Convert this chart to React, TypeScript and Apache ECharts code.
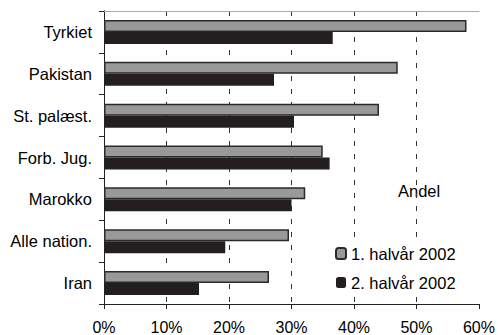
import React, { useEffect, useRef } from "react";
import * as echarts from "echarts";

const categories = ["Tyrkiet", "Pakistan", "St. palæst.", "Forb. Jug.", "Marokko", "Alle nation.", "Iran"];
const firstHalf2002 = [58.0, 47.0, 44.0, 35.0, 32.2, 29.6, 26.4];
const secondHalf2002 = [36.6, 27.2, 30.4, 36.1, 30.0, 19.4, 15.2];
const seriesNames = ["1. halvår 2002", "2. halvår 2002"];
const xTickMax = 60;
const xTickStep = 10;

const FONT = "'Liberation Sans', Arial, sans-serif";

export default function App() {
  const ref = useRef<HTMLDivElement>(null);
  useEffect(() => {
    if (!ref.current) return;
    const chart = echarts.init(ref.current, undefined, { renderer: "svg" });
    chart.setOption({
      animation: false,
      backgroundColor: "#fff",
      textStyle: { fontFamily: FONT },
      grid: { left: 104, right: 17, top: 11, bottom: 27, containLabel: false },
      xAxis: [
        {
          type: "value",
          min: 0,
          max: xTickMax,
          interval: xTickStep,
          axisLine: { show: true, lineStyle: { color: "#222", width: 1 } },
          axisTick: { show: true, length: 5, lineStyle: { color: "#222" } },
          axisLabel: { formatter: "{value}%", fontSize: 16, color: "#000", margin: 15, fontFamily: FONT },
          splitLine: {
            show: true,
            showMinLine: false,
            showMaxLine: false,
            lineStyle: { type: [5, 8], color: "#333", width: 1 },
          },
        },
        {
          type: "value",
          position: "top",
          min: 0,
          max: xTickMax,
          interval: xTickStep,
          axisLine: { show: true, lineStyle: { color: "#aaa", width: 1 } },
          axisTick: { show: false },
          axisLabel: { show: false },
          splitLine: { show: false },
        },
      ],
      yAxis: [
        {
          type: "category",
          data: categories,
          inverse: true,
          axisLine: { show: true, lineStyle: { color: "#222", width: 1 } },
          axisTick: { show: true, length: 5, lineStyle: { color: "#222" } },
          axisLabel: { fontSize: 16.5, color: "#000", margin: 12, fontFamily: FONT },
          splitLine: { show: false },
        },
        {
          type: "category",
          data: categories,
          inverse: true,
          position: "right",
          axisLine: { show: true, lineStyle: { color: "#222", width: 1 } },
          axisTick: { show: false },
          axisLabel: { show: false },
          splitLine: { show: false },
        },
      ],
      legend: {
        orient: "vertical",
        left: 329,
        top: 240,
        padding: [5, 6],
        itemWidth: 10,
        itemHeight: 11,
        itemGap: 12,
        backgroundColor: "#fff",
        textStyle: { fontSize: 16.5, color: "#000", fontFamily: FONT, lineHeight: 17 },
        data: seriesNames,
      },
      graphic: [
        {
          type: "text",
          left: 395,
          top: 178,
          style: {
            text: "Andel",
            fontSize: 16.5,
            fontFamily: FONT,
            fill: "#000",
            backgroundColor: "#fff",
            padding: [4, 3],
          },
        },
      ],
      series: [
        {
          name: seriesNames[0],
          type: "bar",
          data: firstHalf2002,
          barWidth: 12,
          barGap: "0%",
          itemStyle: { color: "#999", borderColor: "#2a2a2a", borderWidth: 1.5 },
        },
        {
          name: seriesNames[1],
          type: "bar",
          data: secondHalf2002,
          barWidth: 12,
          barGap: "0%",
          itemStyle: { color: "#231f20" },
        },
      ],
    });
    return () => chart.dispose();
  }, []);
  return <div ref={ref} style={{ position: "absolute", left: 0, top: 0, width: 498, height: 335 }} />;
}
